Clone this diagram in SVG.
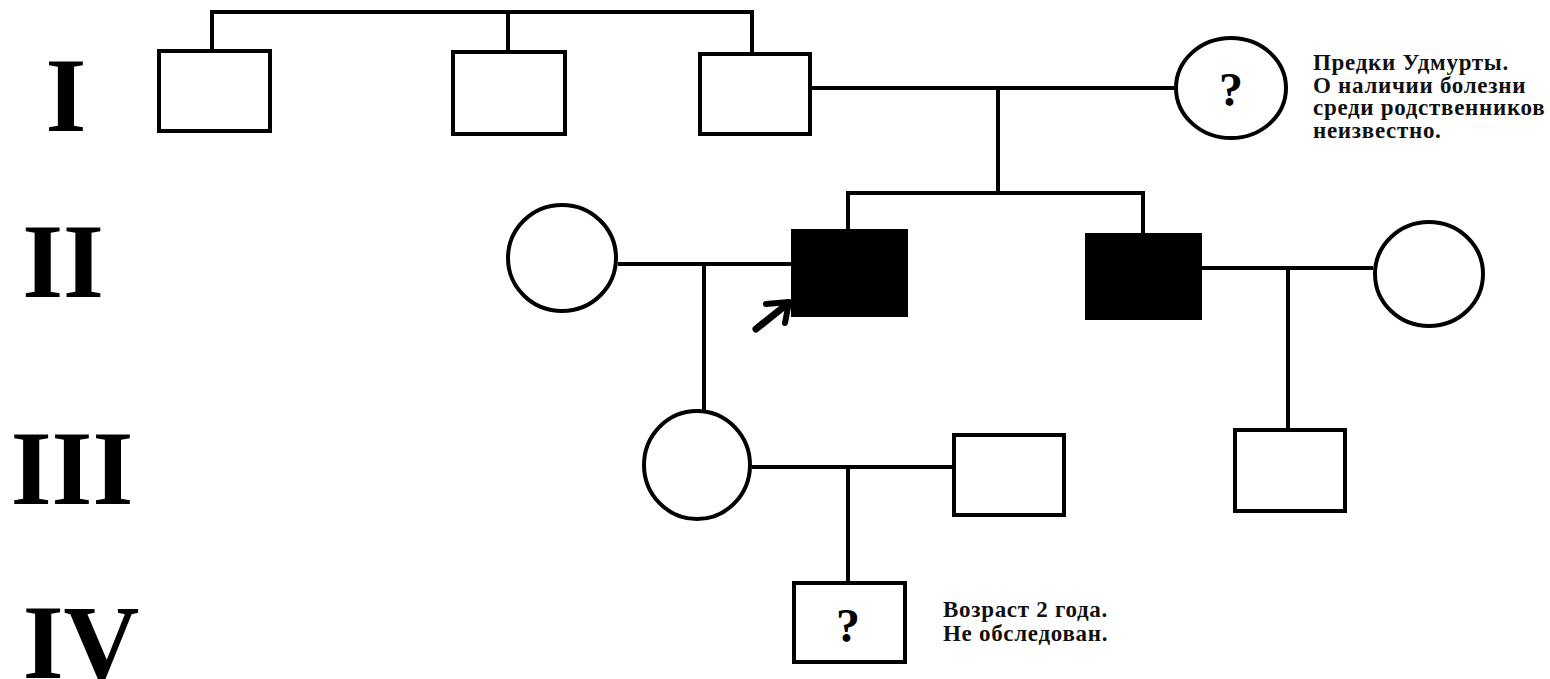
<svg xmlns="http://www.w3.org/2000/svg" width="1550" height="679" viewBox="0 0 1550 679">
<style>
.n{fill:#fff;stroke:#000;stroke-width:4}
.a{fill:#000;stroke:#000;stroke-width:4}
.c line{stroke:#000;stroke-width:4}
.gen{font-family:"Liberation Serif",serif;font-weight:bold;font-size:105px;fill:#000}
.q{font-family:"Liberation Serif",serif;font-weight:bold;font-size:48px;fill:#000;text-anchor:middle}
.note{font-family:"Liberation Serif",serif;font-weight:bold;font-size:23px;letter-spacing:0.7px;fill:#111}
</style>
<rect width="1550" height="679" fill="#fff"/>
<g id="generations">
<text class="gen" x="66" y="131" text-anchor="middle">I</text>
<text class="gen" x="63" y="297" text-anchor="middle">II</text>
<text class="gen" x="72" y="504" text-anchor="middle">III</text>
<text class="gen" x="81" y="678" text-anchor="middle">IV</text>
</g>
<g id="connectors" class="c">
<line x1="210" y1="12" x2="754" y2="12"/>
<line x1="212" y1="10" x2="212" y2="51"/>
<line x1="508" y1="12" x2="508" y2="52"/>
<line x1="752" y1="10" x2="752" y2="54"/>
<line x1="812" y1="88" x2="1175" y2="88"/>
<line x1="998" y1="88" x2="998" y2="195"/>
<line x1="846" y1="193" x2="1145" y2="193"/>
<line x1="848" y1="193" x2="848" y2="231"/>
<line x1="1143" y1="193" x2="1143" y2="235"/>
<line x1="618" y1="264" x2="791" y2="264"/>
<line x1="704" y1="264" x2="704" y2="411"/>
<line x1="1202" y1="268" x2="1373" y2="268"/>
<line x1="1288" y1="268" x2="1288" y2="430"/>
<line x1="752" y1="467" x2="952" y2="467"/>
<line x1="848" y1="467" x2="848" y2="583"/>
</g>
<g id="I-1"><rect class="n" x="159" y="51" width="111" height="80"/></g>
<g id="I-2"><rect class="n" x="453" y="52" width="112" height="82"/></g>
<g id="I-3"><rect class="n" x="700" y="54" width="110" height="80"/></g>
<g id="I-4"><ellipse class="n" cx="1231" cy="88" rx="55" ry="50"/><text class="q" x="1231" y="106">?</text></g>
<g id="I-note"><text class="note"><tspan x="1313" y="70">Предки Удмурты.</tspan><tspan x="1313" y="93">О наличии болезни</tspan><tspan x="1313" y="115">среди родственников</tspan><tspan x="1313" y="138">неизвестно.</tspan></text></g>
<g id="II-1"><ellipse class="n" cx="562" cy="258" rx="54" ry="53"/></g>
<g id="II-2"><rect class="a" x="793" y="231" width="113" height="84"/>
<path d="M756 329 L786 305" fill="none" stroke="#000" stroke-width="7" stroke-linecap="round"/>
<path d="M766 304 L789 302 L785 323" fill="none" stroke="#000" stroke-width="6" stroke-linecap="round" stroke-linejoin="round"/></g>
<g id="II-3"><rect class="a" x="1087" y="235" width="113" height="83"/></g>
<g id="II-4"><ellipse class="n" cx="1429" cy="274" rx="54" ry="52"/></g>
<g id="III-1"><ellipse class="n" cx="697" cy="465" rx="53" ry="54"/></g>
<g id="III-2"><rect class="n" x="954" y="435" width="110" height="80"/></g>
<g id="III-3"><rect class="n" x="1235" y="430" width="110" height="81"/></g>
<g id="IV-1"><rect class="n" x="794" y="583" width="111" height="79"/><text class="q" x="848" y="642">?</text></g>
<g id="IV-note"><text class="note"><tspan x="943" y="617">Возраст 2 года.</tspan><tspan x="943" y="641">Не обследован.</tspan></text></g>
</svg>
